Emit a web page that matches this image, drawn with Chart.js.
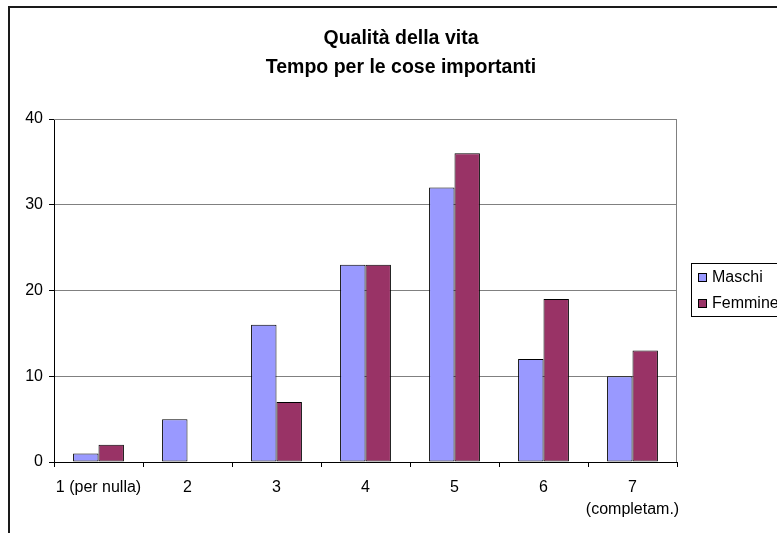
<!DOCTYPE html>
<html>
<head>
<meta charset="utf-8">
<script src="https://cdn.jsdelivr.net/npm/chart.js@4/dist/chart.umd.min.js"></script>
<style>
  html, body { margin: 0; padding: 0; background: #fff; }
  #wrap { width: 777px; height: 533px; }
</style>
</head>
<body>
<div id="wrap"><canvas id="c" width="777" height="533"></canvas></div>
<script>
const TITLE_LINES = ['Qualità della vita', 'Tempo per le cose importanti'];
const CATEGORIES = ['1 (per nulla)', '2', '3', '4', '5', '6', ['7', '(completam.)']];
const MASCHI = [1, 5, 16, 23, 32, 12, 10];
const FEMMINE = [2, 0, 7, 23, 36, 19, 13];
const Y_MAX = 40;
const Y_STEP = 10;

const FONT = "'Liberation Sans', Arial, sans-serif";
const BLUE = '#9999FF';
const PLUM = '#993366';

// Excel-style frame, title, plot border and legend box
const frame = {
  id: 'frame',
  beforeDraw(chart) {
    const ctx = chart.ctx;
    ctx.save();
    ctx.fillStyle = '#fff';
    ctx.fillRect(0, 0, chart.width, chart.height);
    ctx.fillStyle = '#1a1a1a';
    ctx.fillRect(8, 6, 2, chart.height);
    ctx.fillRect(8, 6, chart.width, 2);
    ctx.restore();
  },
  afterDraw(chart) {
    const ctx = chart.ctx;
    const a = chart.chartArea;
    ctx.save();
    // plot area border (top + right)
    ctx.strokeStyle = '#808080';
    ctx.lineWidth = 1;
    ctx.beginPath();
    ctx.moveTo(a.left, a.top + 0.5);
    ctx.lineTo(a.right - 0.5, a.top + 0.5);
    ctx.lineTo(a.right - 0.5, a.bottom);
    ctx.stroke();

    // title
    ctx.fillStyle = '#000';
    ctx.font = 'bold 19.5px ' + FONT;
    ctx.textAlign = 'center';
    ctx.textBaseline = 'alphabetic';
    ctx.fillText(TITLE_LINES[0], 401, 44);
    ctx.fillText(TITLE_LINES[1], 401, 73);

    // legend
    ctx.strokeStyle = '#000';
    ctx.strokeRect(691.5, 263.5, 120, 53);
    ctx.font = '16px ' + FONT;
    ctx.textAlign = 'left';
    ctx.textBaseline = 'middle';
    chart.data.datasets.forEach((ds, i) => {
      const y = 277 + i * 26;
      ctx.fillStyle = ds.backgroundColor;
      ctx.fillRect(698, y - 4, 8, 8);
      ctx.strokeRect(698.5, y - 3.5, 8, 8);
      ctx.fillStyle = '#000';
      ctx.fillText(ds.label, 712, y + 1);
    });
    ctx.restore();
  }
};

new Chart(document.getElementById('c'), {
  type: 'bar',
  data: {
    labels: CATEGORIES,
    datasets: [
      { label: 'Maschi', data: MASCHI, backgroundColor: BLUE },
      { label: 'Femmine', data: FEMMINE, backgroundColor: PLUM }
    ].map(ds => ({
      ...ds,
      borderColor: '#000',
      borderWidth: 1,
      borderSkipped: false,
      inflateAmount: 0,
      barPercentage: 1,
      categoryPercentage: 2 / 3.5
    }))
  },
  options: {
    responsive: false,
    animation: false,
    events: [],
    layout: { padding: { top: 119, right: 100, left: 0, bottom: 0 } },
    plugins: {
      legend: { display: false },
      title: { display: false },
      tooltip: { enabled: false }
    },
    scales: {
      x: {
        afterFit(s) { s.height = 71; },
        border: { color: '#000', width: 1 },
        grid: {
          offset: true,
          drawOnChartArea: false,
          drawTicks: true,
          tickLength: 5,
          tickColor: '#000'
        },
        ticks: {
          color: '#000',
          font: { family: FONT, size: 16, lineHeight: 1.375 },
          maxRotation: 0,
          autoSkip: false,
          padding: 10
        }
      },
      y: {
        min: 0,
        max: Y_MAX,
        afterFit(s) { s.width = 54; },
        border: { color: '#000', width: 1 },
        grid: {
          color: '#808080',
          tickColor: '#000',
          tickLength: 5
        },
        ticks: {
          stepSize: Y_STEP,
          color: '#000',
          font: { family: FONT, size: 16 },
          padding: 6
        }
      }
    }
  },
  plugins: [frame]
});
</script>
</body>
</html>
